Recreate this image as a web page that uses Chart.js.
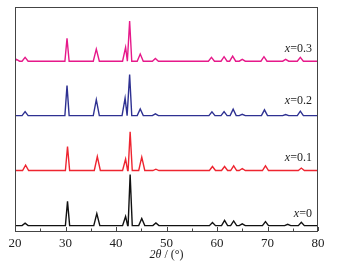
<!DOCTYPE html>
<html>
<head>
<meta charset="utf-8">
<script src="https://cdn.jsdelivr.net/npm/chart.js@4"></script>
<style>
  html, body { margin: 0; padding: 0; background: #fff; }
  #wrap { width: 353px; height: 267px; }
</style>
</head>
<body>
<div id="wrap"><canvas id="xrd"></canvas></div>
<script>
// ── data (intensity in arbitrary units, 0..100) ──
const seriesNames = ['x=0', 'x=0.1', 'x=0.2', 'x=0.3'];
const baselines   = [2.4, 27.0, 51.5, 75.8];

const peaks0   = [22.0, 30.4, 36.2, 41.9, 42.8, 45.1, 47.9, 59.1, 61.5, 63.3, 65.0, 69.6, 74.0, 76.7];
const heights0 = [3.5, 13.2, 7.8, 6.5, 25.2, 5.6, 3.6, 3.8, 4.7, 4.5, 3.2, 4.2, 3.0, 3.9];

const peaks1   = [22.1, 30.4, 36.3, 41.9, 42.8, 45.1, 47.9, 59.1, 61.5, 63.3, 65.0, 69.6, 76.7];
const heights1 = [29.4, 37.7, 33.2, 32.1, 44.3, 33.0, 27.6, 28.8, 28.8, 29.1, 27.9, 29.1, 28.1];

const peaks2   = [22.0, 30.3, 36.1, 41.8, 42.7, 44.8, 47.8, 59.0, 61.4, 63.2, 65.0, 69.4, 73.6, 76.5];
const heights2 = [53.3, 64.9, 58.6, 59.3, 69.8, 54.5, 52.3, 53.2, 53.3, 54.4, 52.1, 54.1, 52.0, 53.5];

const peaks3   = [20.3, 22.0, 30.3, 36.1, 41.9, 42.7, 44.8, 47.8, 58.9, 61.4, 63.1, 65.0, 69.3, 73.6, 76.5];
const heights3 = [76.6, 77.5, 86.0, 81.2, 82.0, 93.7, 79.0, 77.0, 77.5, 77.8, 78.1, 76.6, 77.8, 76.6, 77.5];

const labelY   = [7.7, 32.7, 58.0, 81.1];
const xTicks   = [20, 30, 40, 50, 60, 70, 80];

const colors = ['#111111', '#ee2530', '#2e3192', '#e6198a'];

// build a polyline: flat baseline with a narrow peak at each read position
function trace(base, pos, hts) {
  const pts = [{ x: 20, y: base }];
  for (let i = 0; i < pos.length; i++) {
    const big = hts[i] - base > 8;
    const w = big ? 0.42 : 0.6;
    const nxt = pos[i + 1];
    const right = nxt !== undefined && nxt - pos[i] < 1.2 ? (pos[i] + nxt) / 2 - 0.05 : pos[i] + w;
    const prv = pos[i - 1];
    const left = prv !== undefined && pos[i] - prv < 1.2 ? (pos[i] + prv) / 2 + 0.05 : pos[i] - w;
    pts.push({ x: left, y: base });
    pts.push({ x: pos[i], y: hts[i] });
    pts.push({ x: right, y: base });
  }
  pts.push({ x: 80, y: base });
  return pts.sort((a, b) => a.x - b.x);
}

const allPeaks = [peaks0, peaks1, peaks2, peaks3];
const allHeights = [heights0, heights1, heights2, heights3];

const datasets = seriesNames.map((name, i) => ({
  label: name,
  data: trace(baselines[i], allPeaks[i], allHeights[i]),
  borderColor: colors[i],
  borderWidth: 1.4,
  pointRadius: 0,
  tension: 0,
  fill: false
}));

// ── frame, inward ticks and curve labels ──
const framePlugin = {
  id: 'frame',
  afterDraw(chart) {
    const { ctx, chartArea: a, scales } = chart;
    const xs = scales.x, ys = scales.y;
    ctx.save();
    ctx.strokeStyle = '#444';
    ctx.lineWidth = 1;
    ctx.strokeRect(a.left + 0.5, a.top + 0.5, a.right - a.left - 1, a.bottom - a.top);
    // inward ticks on bottom axis
    ctx.beginPath();
    for (let v = 20; v <= 80; v += 5) {
      const px = Math.round(xs.getPixelForValue(v)) + 0.5;
      const len = v % 10 === 0 ? 4 : 2.5;
      ctx.moveTo(px, a.bottom);
      ctx.lineTo(px, a.bottom - len);
    }
    ctx.stroke();
    // series labels: italic x, upright rest
    ctx.fillStyle = '#222';
    ctx.textBaseline = 'middle';
    seriesNames.forEach((name, i) => {
      const right = xs.getPixelForValue(78.8);
      const y = ys.getPixelForValue(labelY[i]);
      const rest = name.slice(1);
      ctx.font = '12px "Liberation Serif", serif';
      const wr = ctx.measureText(rest).width;
      ctx.textAlign = 'left';
      ctx.fillText(rest, right - wr, y);
      ctx.font = 'italic 12px "Liberation Serif", serif';
      const wx = ctx.measureText('x').width;
      ctx.fillText('x', right - wr - wx, y);
    });
    ctx.restore();
  }
};

// axis title "2θ / (°)" with italic part
const titlePlugin = {
  id: 'xtitle',
  afterDraw(chart) {
    const { ctx, chartArea: a } = chart;
    const cx = (a.left + a.right) / 2;
    const y = a.bottom + 24;
    ctx.save();
    ctx.fillStyle = '#222';
    ctx.textBaseline = 'middle';
    ctx.font = 'italic 12px "Liberation Serif", serif';
    const p1 = '2θ';
    const w1 = ctx.measureText(p1).width;
    ctx.font = '12px "Liberation Serif", serif';
    const p2 = ' / (°)';
    const w2 = ctx.measureText(p2).width;
    const x0 = cx - (w1 + w2) / 2;
    ctx.textAlign = 'left';
    ctx.fillText(p2, x0 + w1, y);
    ctx.font = 'italic 12px "Liberation Serif", serif';
    ctx.fillText(p1, x0, y);
    ctx.restore();
  }
};

new Chart(document.getElementById('xrd'), {
  type: 'line',
  data: { datasets },
  options: {
    responsive: true,
    maintainAspectRatio: false,
    animation: false,
    layout: { padding: { left: 15, right: 35, top: 7, bottom: 12 } },
    plugins: { legend: { display: false }, tooltip: { enabled: false } },
    scales: {
      x: {
        type: 'linear',
        min: 20,
        max: 80,
        border: { display: false },
        grid: { display: false, drawTicks: false },
        afterBuildTicks: s => { s.ticks = xTicks.map(v => ({ value: v })); },
        ticks: {
          padding: 5,
          color: '#222',
          font: { family: '"Liberation Serif", serif', size: 13 },
          maxRotation: 0
        },
        afterFit: s => { s.height = 24; }
      },
      y: {
        min: 0,
        max: 100,
        display: false
      }
    }
  },
  plugins: [framePlugin, titlePlugin]
});
</script>
</body>
</html>
